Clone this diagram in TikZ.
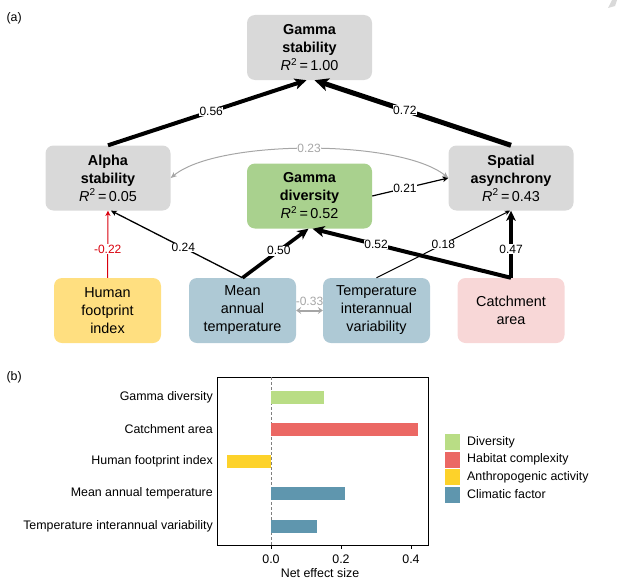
\documentclass[tikz,border=0pt]{standalone}
\usepackage{fontspec}
\setmainfont{Liberation Sans}
\usetikzlibrary{arrows.meta}
\definecolor{boxgray}{HTML}{D9D9D9}
\definecolor{boxgreen}{HTML}{A9D18E}
\definecolor{boxyellow}{HTML}{FFDF80}
\definecolor{boxblue}{HTML}{AEC9D5}
\definecolor{boxpink}{HTML}{F8D7D7}
\definecolor{corgray}{HTML}{A6A6A6}
\definecolor{negred}{HTML}{D9000D}
\definecolor{bardiv}{HTML}{B9DD85}
\definecolor{barhab}{HTML}{EB6864}
\definecolor{barant}{HTML}{FDD22A}
\definecolor{barclm}{HTML}{5F96AE}

\begin{document}
\begin{tikzpicture}[x=1pt, y=-1pt, font=\fontsize{14.4}{18}\selectfont,
  vbox/.style={rounded corners=8pt, minimum width=125pt, minimum height=65pt, align=center, inner sep=0pt},
  dbox/.style={rounded corners=8pt, minimum width=107pt, minimum height=65pt, align=center, inner sep=0pt},
  lnk/.style={line width=#1, -{Stealth[length=3pt 2.2, width=3pt 2, inset=1pt 0.5]}},
  coef/.style={fill=white, inner sep=0.5pt, font=\fontsize{12}{14}\selectfont},
  small/.style={font=\fontsize{12.4}{14}\selectfont}
]
  \useasboundingbox (0,0) rectangle (617,586);
  \fill[gray!30] (608,8) -- (612,0) -- (617,0) -- (615,6) -- cycle;

  % (a) path model
  \node[small, anchor=west] (pa) at (3,18) {(a)};
  \node[vbox, fill=boxgray] (gstab) at (309.5,47.5) {\textbf{Gamma}\\\textbf{stability}\\\textit{R}\textsuperscript{2}\,=\,1.00};
  \node[vbox, fill=boxgray] (astab) at (108,178) {\textbf{Alpha}\\\textbf{stability}\\\textit{R}\textsuperscript{2}\,=\,0.05};
  \node[vbox, fill=boxgray] (sasyn) at (511,178) {\textbf{Spatial}\\\textbf{asynchrony}\\\textit{R}\textsuperscript{2}\,=\,0.43};
  \node[vbox, fill=boxgreen] (gdiv) at (309.5,196) {\textbf{Gamma}\\\textbf{diversity}\\\textit{R}\textsuperscript{2}\,=\,0.52};
  \node[dbox, fill=boxyellow] (hfi) at (107.5,310.5) {Human\\footprint\\index};
  \node[dbox, fill=boxblue] (mat) at (242.5,310.5) {Mean\\annual\\temperature};
  \node[dbox, fill=boxblue] (tiv) at (376.5,310.5) {Temperature\\interannual\\variability};
  \node[dbox, fill=boxpink] (carea) at (511,310.5) {Catchment\\area};

  \draw[lnk=4pt] (astab.north) -- node[coef, pos=0.52] (k56) {0.56} ([xshift=-3pt]gstab.south);
  \draw[lnk=5pt] (sasyn.north) -- node[coef, pos=0.54] (k72) {0.72} ([xshift=5pt]gstab.south);
  \draw[corgray, line width=1pt, {Stealth[length=6pt, width=5pt, inset=1.5pt]}-{Stealth[length=6pt, width=5pt, inset=1.5pt]}]
    (astab.east) .. controls (218,139) and (400,139) .. node[coef, text=corgray] (k23) {0.23} (sasyn.west);
  \draw[lnk=1.2pt] (gdiv.east) -- node[coef, pos=0.43] (k21) {0.21} (sasyn.west);
  \draw[lnk=1pt, negred] (hfi.north) -- node[coef, pos=0.43, text=negred] (k22) {-0.22} (astab.south);
  \draw[lnk=1.3pt] (mat.north) -- node[coef, pos=0.45] (k24) {0.24} ([xshift=3pt]astab.south);
  \draw[lnk=3.6pt] (mat.north) -- node[coef, pos=0.55] (k50) {0.50} ([xshift=-1pt]gdiv.south);
  \draw[lnk=4pt] (carea.north) -- node[coef, pos=0.68] (k52) {0.52} ([xshift=3pt]gdiv.south);
  \draw[lnk=1pt] (tiv.north) -- node[coef, pos=0.5] (k18) {0.18} ([xshift=-1pt]sasyn.south);
  \draw[lnk=3.2pt] (carea.north) -- node[coef, pos=0.43] (k47) {0.47} (sasyn.south);
  \draw[corgray, line width=2pt, {Stealth[length=5pt, width=7pt, inset=2pt]}-{Stealth[length=5pt, width=7pt, inset=2pt]}]
    (mat.east) -- node[coef, above=3pt, fill=none, text=corgray] (k33) {-0.33} (tiv.west);

  % (b) net effects
  \node[small, anchor=west] (pb) at (3,377) {(b)};
  \draw[line width=0.8pt] (217,377) rectangle (428,545);
  \draw[densely dashed, gray, line width=0.8pt] (271,377) -- (271,545);
  \foreach \v/\t [count=\i] in {0/0.0, 0.2/0.2, 0.4/0.4} {
    \draw[line width=0.8pt] (271+350*\v,545) -- (271+350*\v,549);
    \node[small] (tk\i) at (271+350*\v,559) {\t};
  }
  \node[small] (xlab) at (320,573) {Net effect size};
  \foreach \v/\y/\c/\t [count=\i] in {0.15/397/bardiv/Gamma diversity, 0.42/429/barhab/Catchment area,
      -0.125/461/barant/Human footprint index, 0.21/493/barclm/Mean annual temperature,
      0.13/526/barclm/Temperature interannual variability} {
    \fill[\c] (271,\y-6.5) rectangle (271+350*\v,\y+6.5);
    \node[small, anchor=east, inner sep=0pt] (yl\i) at (213,\y) {\t};
  }
  \foreach \c/\t [count=\i] in {bardiv/Diversity, barhab/Habitat complexity, barant/Anthropogenic activity, barclm/Climatic factor} {
    \fill[\c] (445,434+17.5*\i-17.5) rectangle ++(15,16);
    \node[small, anchor=west, inner sep=0pt] (leg\i) at (467,442+17.5*\i-17.5) {\t};
  }
\end{tikzpicture}
\end{document}
